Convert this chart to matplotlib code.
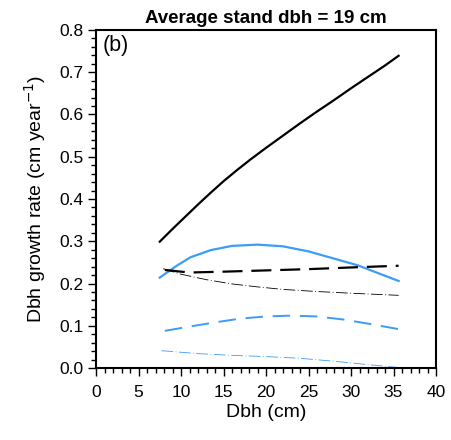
import numpy as np
import matplotlib
matplotlib.use('Agg')
import matplotlib.pyplot as plt
from matplotlib.ticker import MultipleLocator, FormatStrFormatter

plt.rcParams['font.family'] = ['Liberation Sans', 'DejaVu Sans']

# Curves (dbh in cm, growth in cm/year)
black_solid_x = [7.5, 9, 10.5, 12, 13.5, 15, 16.5, 18.2, 20, 22, 24, 26, 28, 30, 32, 34, 35.6]
black_solid_y = [0.299, 0.329, 0.358, 0.387, 0.415, 0.442, 0.467, 0.494, 0.521, 0.550,
                 0.579, 0.607, 0.634, 0.662, 0.689, 0.716, 0.739]

blue_solid_x = [7.5, 9.5, 11.1, 13.5, 16, 19, 22, 25, 28, 30.8, 33, 35.6]
blue_solid_y = [0.214, 0.242, 0.262, 0.279, 0.289, 0.292, 0.288, 0.276, 0.259, 0.243, 0.226, 0.206]

black_dash_x = [8.1, 11, 15, 20, 25, 30, 35.6]
black_dash_y = [0.232, 0.226, 0.228, 0.231, 0.234, 0.238, 0.242]

black_dashdot_x = [7.9, 10, 13, 16, 19, 22, 26, 30, 35.6]
black_dashdot_y = [0.235, 0.222, 0.209, 0.199, 0.192, 0.186, 0.181, 0.177, 0.172]

blue_dash_x = [8.1, 11, 14, 17, 20, 23, 26, 29, 32, 35.6]
blue_dash_y = [0.088, 0.098, 0.108, 0.117, 0.122, 0.124, 0.122, 0.115, 0.105, 0.092]

blue_dashdot_x = [7.7, 12, 16, 20, 24, 28, 32, 35.6]
blue_dashdot_y = [0.041, 0.034, 0.030, 0.027, 0.023, 0.016, 0.008, 0.001]

blue = '#3d9cf5'

fig = plt.figure(figsize=(4.51, 4.40), dpi=100)
ax = fig.add_axes([96 / 451, 72 / 440, 340 / 451, 338 / 440])

ax.plot(black_solid_x, black_solid_y, color='black', lw=1.6)
ax.plot(blue_solid_x, blue_solid_y, color=blue, lw=1.6)
ax.plot(black_dash_x, black_dash_y, color='black', lw=1.6, dashes=(9, 4))
ax.plot(black_dashdot_x, black_dashdot_y, color='black', lw=0.6, dashes=(14, 3, 1, 3))
ax.plot(blue_dash_x, blue_dash_y, color=blue, lw=1.4, dashes=(9, 5))
ax.plot(blue_dashdot_x, blue_dashdot_y, color=blue, lw=0.6, dashes=(14, 3, 1, 3))

ax.set_xlim(0, 40)
ax.set_ylim(0, 0.8)
ax.xaxis.set_major_locator(MultipleLocator(5))
ax.xaxis.set_minor_locator(MultipleLocator(1))
ax.yaxis.set_major_locator(MultipleLocator(0.1))
ax.yaxis.set_minor_locator(MultipleLocator(0.02))
ax.yaxis.set_major_formatter(FormatStrFormatter('%.1f'))
ax.tick_params(which='major', direction='out', length=6, width=1, labelsize=12.5, pad=3)
ax.tick_params(which='minor', direction='out', length=3.5, width=1)
ax.tick_params(axis='x', pad=6)
for s in ax.spines.values():
    s.set_linewidth(1.5)

ax.set_xlabel('Dbh (cm)', fontsize=14, labelpad=3)
ax.set_ylabel('Dbh growth rate (cm year$^{-1}$)', fontsize=14, labelpad=8)
ax.set_title('Average stand dbh = 19 cm', fontsize=13.5, fontweight='bold', pad=5)
ax.text(0.02, 0.985, '(b)', transform=ax.transAxes, fontsize=15.5, va='top', ha='left')

fig.savefig('out.png', dpi=100)
